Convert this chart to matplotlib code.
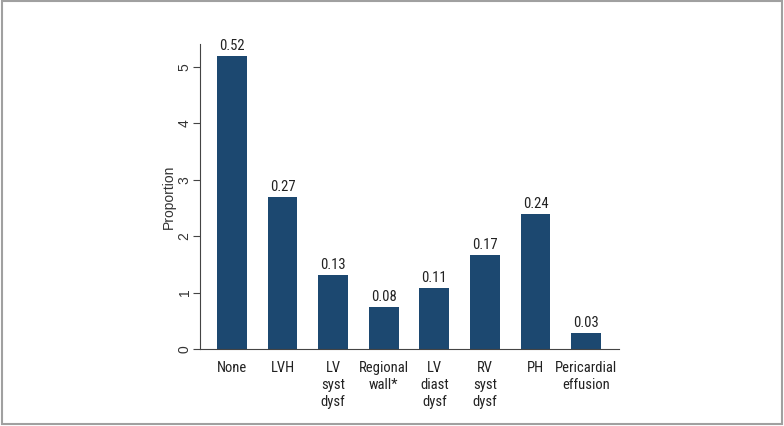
import matplotlib
matplotlib.use("Agg")
import matplotlib.pyplot as plt
from matplotlib.patches import Rectangle
from matplotlib import font_manager

categories = ["None", "LVH", "LV\nsyst\ndysf", "Regional\nwall*", "LV\ndiast\ndysf",
              "RV\nsyst\ndysf", "PH", "Pericardial\neffusion"]
values = [5.2, 2.7, 1.32, 0.75, 1.08, 1.67, 2.39, 0.28]
bar_labels = ["0.52", "0.27", "0.13", "0.08", "0.11", "0.17", "0.24", "0.03"]
yticks = [0, 1, 2, 3, 4, 5]

names = {f.name for f in font_manager.fontManager.ttflist}
narrow = "Liberation Sans Narrow" if "Liberation Sans Narrow" in names else "Roboto Condensed" if "Roboto Condensed" in names else "Liberation Sans"

fig = plt.figure(figsize=(7.84, 4.26), dpi=100)
fig.patch.set_facecolor("white")
fig.add_artist(Rectangle((0.002, 0.004), 0.995, 0.993, transform=fig.transFigure,
                         fill=False, edgecolor="#a0a0a0", linewidth=1.5))

ax = fig.add_axes([0.2551, 0.1808, 0.5344, 0.7159])
x = list(range(len(categories)))
bars = ax.bar(x, values, width=0.59, color="#1c4870")
for xi, v, lab in zip(x, values, bar_labels):
    ax.text(xi, v + 0.05, lab, ha="center", va="bottom", fontsize=10.5,
            family=narrow, color="#222222")

ax.set_xlim(-0.63, 7.65)
ax.set_ylim(0, 5.41)
ax.set_xticks(x)
ax.set_xticklabels(categories, family=narrow, fontsize=10.5, color="#222222",
                   linespacing=1.25, va="top")
ax.tick_params(axis="x", length=0, pad=9)
ax.set_yticks(yticks)
ax.set_yticklabels([str(t) for t in yticks], rotation=90, va="center",
                   fontsize=10, family="Liberation Sans", color="#333333")
ax.tick_params(axis="y", length=5, width=0.8, color="#444444", pad=1)
ax.set_ylabel("Proportion", fontsize=10, family="Liberation Sans", color="#333333", labelpad=1)
for s in ["top", "right"]:
    ax.spines[s].set_visible(False)
ax.spines["left"].set_color("#444444")
ax.spines["bottom"].set_color("#444444")
ax.spines["left"].set_linewidth(0.8)
ax.spines["bottom"].set_linewidth(0.8)

fig.savefig("out.png", dpi=100)
